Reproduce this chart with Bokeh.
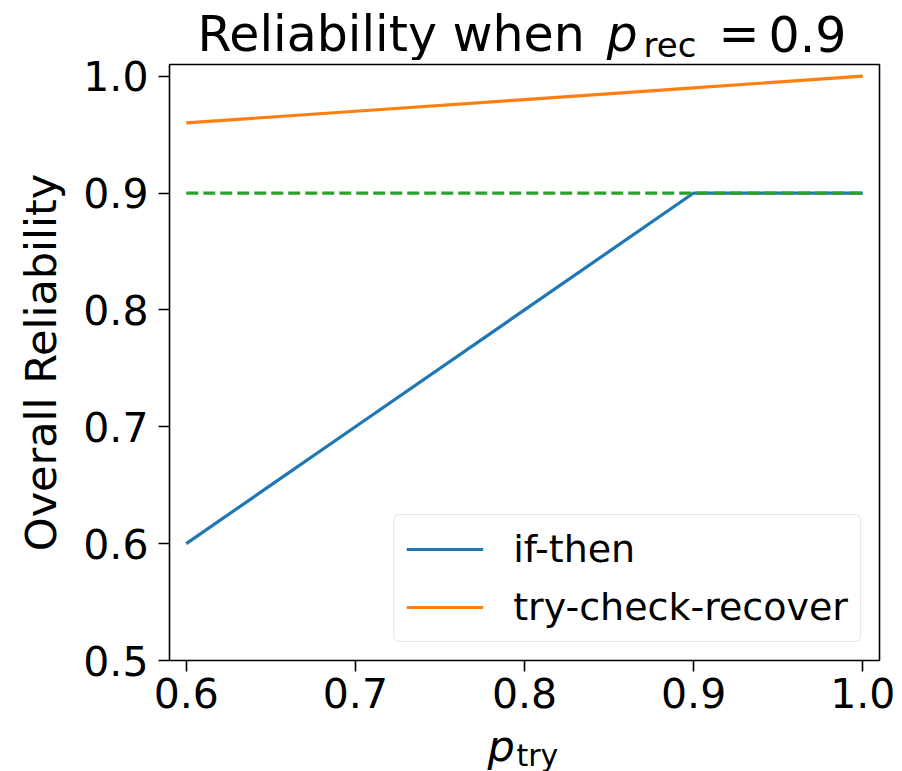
from bokeh.plotting import figure
from bokeh.models import (ColumnDataSource, FixedTicker, NumeralTickFormatter, Range1d,
                          Legend, LegendItem)
from bokeh.layouts import column
from bokeh.core.properties import value
from bokeh.embed import file_html
from bokeh.resources import INLINE

# ---- data ----
p_try = [0.6, 0.7, 0.8, 0.9, 1.0]
if_then = [0.6, 0.7, 0.8, 0.9, 0.9]
try_check_recover = [0.96, 0.97, 0.98, 0.99, 1.0]
threshold = [0.9, 0.9]
threshold_x = [0.6, 1.0]
x_ticks = [0.6, 0.7, 0.8, 0.9, 1.0]
y_ticks = [0.5, 0.6, 0.7, 0.8, 0.9, 1.0]
series_names = ["if-then", "try-check-recover"]
title_parts = ["Reliability when", "p", "rec", "=", "0.9"]
xlabel_parts = ["p", "try"]
ylabel = "Overall Reliability"

FONT = "DejaVu Sans"
BLUE, ORANGE, GREEN = "#1f77b4", "#ff7f0e", "#2ca02c"
W = 902
LEFT, RIGHT = 169, 23          # frame borders shared by all three strips
SHIFT = 0.245                  # baseline correction, in em
TITLE_H, XL_H = 60, 39


def text_strip(height):
    f = figure(width=W, height=height, output_backend="svg", toolbar_location=None,
               x_range=Range1d(LEFT, W - RIGHT), y_range=Range1d(0, height),
               x_axis_type=None, y_axis_type=None, min_border_left=LEFT,
               min_border_right=RIGHT, min_border_top=0, min_border_bottom=0)
    f.title.visible = False
    f.outline_line_color = None
    f.xgrid.visible = False
    f.ygrid.visible = False
    f.background_fill_color = "white"
    f.border_fill_color = "white"
    return f


def put(f, txt, x, y, size, style="normal"):
    f.text(x=[x], y=[y + SHIFT * size], text=[txt], text_font=value(FONT),
           text_font_size=value(f"{size}px"), text_font_style=style, text_color="black",
           text_baseline="alphabetic", text_align="left")


# ---- title strip; baselines at page y 46 (main) / 53 (subscript) ----
t = text_strip(TITLE_H)
put(t, title_parts[0], 197, TITLE_H - 46, 49)
put(t, title_parts[1], 606, TITLE_H - 46, 49, "italic")
put(t, title_parts[2], 643, TITLE_H - 53, 34)
put(t, title_parts[3], 718, TITLE_H - 46, 49)
put(t, title_parts[4], 768, TITLE_H - 46, 49)

# ---- main plot (frame at page y 64..660) ----
p = figure(width=W, height=732 - TITLE_H, output_backend="svg", toolbar_location=None,
           x_range=Range1d(0.5901, 1.0099), y_range=Range1d(0.5, 1.01),
           min_border_left=LEFT, min_border_right=RIGHT, min_border_top=64 - TITLE_H,
           min_border_bottom=72)
p.background_fill_color = "white"
p.border_fill_color = "white"
p.outline_line_color = "black"
p.outline_line_width = 1.6
p.outline_line_alpha = 1.0
p.xgrid.visible = False
p.ygrid.visible = False

src = ColumnDataSource(dict(x=p_try, a=if_then, b=try_check_recover))
r1 = p.line("x", "a", source=src, line_color=BLUE, line_width=3.2)
r2 = p.line("x", "b", source=src, line_color=ORANGE, line_width=3.2)
p.line(threshold_x, threshold, line_color=GREEN, line_width=3.2, line_dash="12 5")

for ax in (p.xaxis, p.yaxis):
    ax.axis_line_color = None
    ax.major_tick_line_color = "black"
    ax.major_tick_line_width = 1.6
    ax.major_tick_out = 11
    ax.major_tick_in = 0
    ax.minor_tick_line_color = None
    ax.major_label_text_font = FONT
    ax.major_label_text_font_size = "41px"
    ax.major_label_text_color = "black"

p.xaxis.ticker = FixedTicker(ticks=x_ticks)
p.yaxis.ticker = FixedTicker(ticks=y_ticks)
p.xaxis.formatter = NumeralTickFormatter(format="0.0")
p.yaxis.formatter = NumeralTickFormatter(format="0.0")
p.xaxis.major_label_standoff = 6
p.yaxis.major_label_standoff = 10

p.yaxis.axis_label = ylabel
p.yaxis.axis_label_text_font = FONT
p.yaxis.axis_label_text_font_size = "43px"
p.yaxis.axis_label_text_font_style = "normal"
p.yaxis.axis_label_text_color = "black"
p.yaxis.axis_label_standoff = 14

legend = Legend(items=[LegendItem(label=series_names[0], renderers=[r1]),
                       LegendItem(label=series_names[1], renderers=[r2])],
                location="bottom_right", margin=18)
legend.label_text_font = FONT
legend.label_text_font_size = "38px"
legend.label_text_color = "black"
legend.glyph_width = 77
legend.glyph_height = 36
legend.label_height = 36
legend.label_standoff = 30
legend.padding = 12
legend.spacing = 14
legend.border_line_color = "#cccccc"
legend.border_line_width = 1.5
legend.background_fill_color = "white"
legend.background_fill_alpha = 0.8
if "border_radius" in Legend.properties():
    legend.border_radius = 6
p.add_layout(legend, "center")

# ---- x-label strip; baselines at page y 756 / 762 ----
xl = text_strip(XL_H)
put(xl, xlabel_parts[0], 487, 771 - 756, 43, "italic")
put(xl, xlabel_parts[1], 516, 771 - 762, 30)

layout = column(t, p, xl, spacing=0)
open("out.html", "w").write(file_html(layout, INLINE))
